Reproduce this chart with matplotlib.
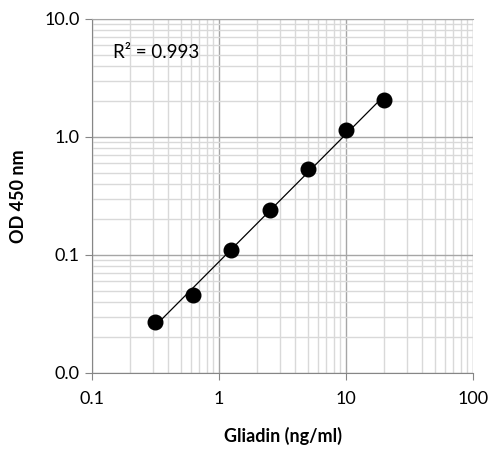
import matplotlib
matplotlib.use("Agg")
import matplotlib.pyplot as plt
import numpy as np
from matplotlib.ticker import FixedLocator, FixedFormatter, LogLocator, NullFormatter

plt.rcParams["font.family"] = ["Lato", "DejaVu Sans"]

# gliadin standard curve
conc = [0.3125, 0.625, 1.25, 2.5, 5, 10, 20]
od = [0.027, 0.046, 0.110, 0.240, 0.535, 1.14, 2.05]
x_ticks = [0.1, 1, 10, 100]
x_labels = ["0.1", "1", "10", "100"]
y_ticks = [0.01, 0.1, 1, 10]
y_labels = ["0.0", "0.1", "1.0", "10.0"]
r2_text = "R² = 0.993"

fig = plt.figure(figsize=(4.9, 4.49), dpi=100)
ax = fig.add_axes([0.1878, 0.1693, 0.7775, 0.7884])
ax.set_xscale("log")
ax.set_yscale("log")
ax.set_xlim(0.1, 100)
ax.set_ylim(0.01, 10)

ax.xaxis.set_major_locator(FixedLocator(x_ticks))
ax.xaxis.set_major_formatter(FixedFormatter(x_labels))
ax.yaxis.set_major_locator(FixedLocator(y_ticks))
ax.yaxis.set_major_formatter(FixedFormatter(y_labels))
ax.xaxis.set_minor_locator(LogLocator(base=10, subs=np.arange(2, 10)))
ax.yaxis.set_minor_locator(LogLocator(base=10, subs=np.arange(2, 10)))
ax.xaxis.set_minor_formatter(NullFormatter())
ax.yaxis.set_minor_formatter(NullFormatter())

ax.grid(True, which="major", color="#a6a6a6", lw=1.0)
ax.grid(True, which="minor", color="#d9d9d9", lw=1.0)
ax.set_axisbelow(True)

ax.spines["right"].set_visible(False)
ax.spines["top"].set_color("#a6a6a6")
for side in ["left", "bottom"]:
    ax.spines[side].set_color("#868686")
ax.tick_params(which="major", length=5, color="#868686", labelsize=13, pad=4)
ax.tick_params(axis="x", which="major", pad=8)
ax.tick_params(which="minor", length=0)

# power trend line
lx, ly = np.log10(conc), np.log10(od)
slope, icpt = np.polyfit(lx, ly, 1)
xs = np.array([min(conc), max(conc)])
ax.plot(xs, 10 ** icpt * xs ** slope, color="black", lw=0.9, zorder=3)
ax.plot(conc, od, "o", color="black", ms=10.5, zorder=4)

ax.text(0.055, 0.905, r2_text, transform=ax.transAxes, fontsize=13.5,
        va="center", ha="left")

ax.set_xlabel("Gliadin (ng/ml)", fontsize=13, fontweight="bold", labelpad=14)
ax.set_ylabel("OD 450 nm", fontsize=13, fontweight="bold", labelpad=12)

fig.savefig("out.png", dpi=100)
